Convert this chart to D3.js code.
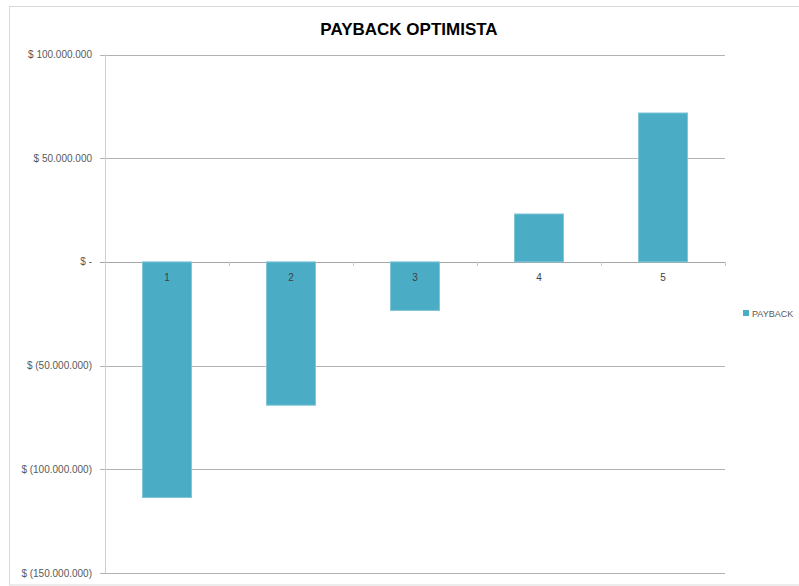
<!DOCTYPE html>
<html>
<head>
<meta charset="utf-8">
<script src="https://cdnjs.cloudflare.com/ajax/libs/d3/7.8.5/d3.min.js"></script>
<style>
  body { margin: 0; background: #fff; }
  svg text { font-family: "Liberation Sans", Arial, sans-serif; }
</style>
</head>
<body>
<div id="chart"></div>
<script>
// datos del grafico
var periodos = ["1", "2", "3", "4", "5"];
var payback = [-113600000, -69100000, -23400000, 23100000, 71800000];
var yTicks = [100000000, 50000000, 0, -50000000, -100000000, -150000000];
var titulo = "PAYBACK OPTIMISTA";
var serie = "PAYBACK";

var width = 799, height = 586;
var margin = {top: 54.5, left: 105, right: 74, bottom: 13};
var color = "#4BACC6";

var svg = d3.select("#chart").append("svg")
    .attr("width", width)
    .attr("height", height);

// borde del area del grafico
svg.append("rect")
    .attr("x", 9.5).attr("y", 6.5)
    .attr("width", 800).attr("height", 578.5)
    .attr("fill", "#fff")
    .attr("stroke", "#d9d9d9");

var x = d3.scaleBand()
    .domain(periodos)
    .range([margin.left, width - margin.right]);

var y = d3.scaleLinear()
    .domain([-150000000, 100000000])
    .range([height - margin.bottom, margin.top]);

// formato "$ 50.000.000" / "$ (50.000.000)" / "$ -"
function fmt(v) {
    if (v === 0) return "$ -";
    var s = d3.format(",")(Math.abs(v)).replace(/,/g, ".");
    return v < 0 ? "$ (" + s + ")" : "$ " + s;
}

// lineas de division
svg.append("g").selectAll("line")
    .data(yTicks)
    .enter().append("line")
    .attr("x1", margin.left - 5)
    .attr("x2", width - margin.right)
    .attr("y1", d => Math.round(y(d)) + 0.5)
    .attr("y2", d => Math.round(y(d)) + 0.5)
    .style("stroke", d => d === 0 ? "#a6a6a6" : "#b3b3b3")
    .style("stroke-width", 1);

// eje y
svg.append("line")
    .attr("x1", margin.left + 0.5).attr("x2", margin.left + 0.5)
    .attr("y1", y(100000000)).attr("y2", y(-150000000))
    .style("stroke", "#d0d0d0");

svg.append("g").selectAll("text")
    .data(yTicks)
    .enter().append("text")
    .attr("x", 92)
    .attr("y", d => y(d) + 3.5)
    .attr("text-anchor", "end")
    .attr("font-size", "10px")
    .attr("fill", "#595959")
    .text(fmt);

// barras
var barW = 49;
svg.append("g").selectAll("rect")
    .data(payback)
    .enter().append("rect")
    .attr("x", (d, i) => x(periodos[i]) + x.bandwidth() / 2 - barW / 2)
    .attr("y", d => y(Math.max(0, d)))
    .attr("width", barW)
    .attr("height", d => Math.abs(y(d) - y(0)))
    .attr("fill", color)
    .attr("stroke", "#7fc6d8")
    .attr("stroke-width", 1);

// eje x: marcas entre categorias
var marcas = periodos.map(p => x(p)).concat([width - margin.right]);
svg.append("g").selectAll("line")
    .data(marcas.slice(1))
    .enter().append("line")
    .attr("x1", d => d + 0.5).attr("x2", d => d + 0.5)
    .attr("y1", y(0)).attr("y2", y(0) + 4)
    .style("stroke", "#c8c8c8");

svg.append("g").selectAll("text")
    .data(periodos)
    .enter().append("text")
    .attr("x", d => x(d) + x.bandwidth() / 2)
    .attr("y", y(0) + 19)
    .attr("text-anchor", "middle")
    .attr("font-size", "10px")
    .attr("fill", "#404040")
    .text(d => d);

// titulo
svg.append("text")
    .attr("x", 409)
    .attr("y", 35)
    .attr("text-anchor", "middle")
    .attr("font-size", "17px")
    .attr("font-weight", "bold")
    .attr("fill", "#000")
    .text(titulo);

// leyenda
svg.append("rect")
    .attr("x", 743).attr("y", 310)
    .attr("width", 6).attr("height", 6)
    .attr("fill", color);
svg.append("text")
    .attr("x", 752).attr("y", 316.5)
    .attr("font-size", "9px")
    .attr("fill", "#595959")
    .text(serie);
</script>
</body>
</html>
